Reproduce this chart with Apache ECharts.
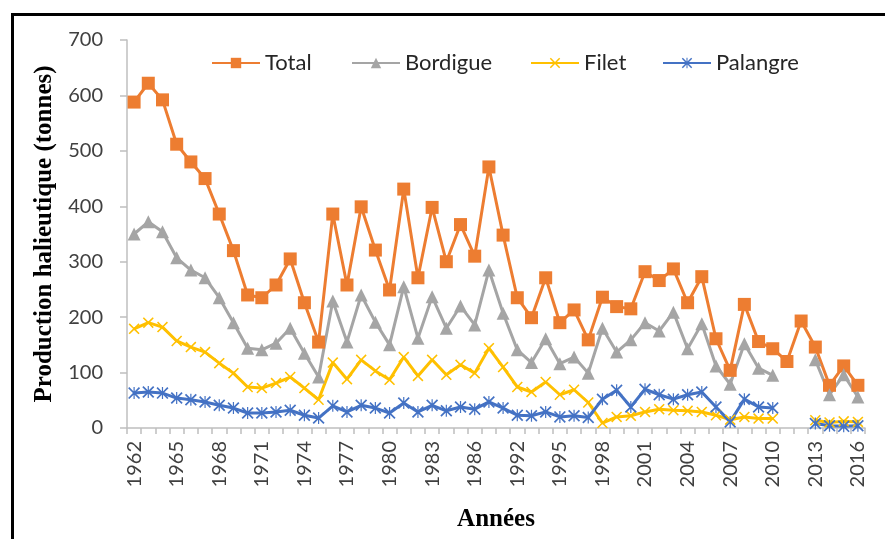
<!DOCTYPE html>
<html>
<head>
<meta charset="utf-8">
<script src="https://cdn.jsdelivr.net/npm/echarts@6/dist/echarts.min.js"></script>
<style>
html,body{margin:0;padding:0;background:#fff;}
#c{width:885px;height:539px;}
</style>
</head>
<body>
<div id="c"></div>
<script>
const years = ['1962','1963','1964','1965','1966','1967','1968','1969','1970','1971','1972','1973','1974','1975','1976','1977','1978','1979','1980','1981','1982','1983','1984','1985','1986','1988','1990','1992','1993','1994','1995','1996','1997','1998','1999','2000','2001','2002','2003','2004','2005','2006','2007','2008','2009','2010','2011','2012','2013','2014','2015','2016'];

const total = [588,622,592,512,480,450,386,320,240,235,258,305,226,155,386,258,399,321,249,431,271,398,300,367,310,
  471,348,
  235,199,271,190,213,159,236,219,215,282,266,287,226,273,161,104,223,156,143,120,193,146,77,112,77];

const bordigue = [350,372,354,307,285,271,235,190,144,141,153,180,135,92,229,155,240,191,150,255,162,237,180,220,186,
  285,207,
  141,118,161,116,128,99,180,137,159,190,175,209,143,188,112,79,152,108,95,null,null,123,60,96,56];

const filet = [179,190,182,157,146,137,117,99,74,72,81,92,72,51,118,88,123,103,87,128,94,123,96,114,99,
  144,110,
  74,65,83,60,69,46,9,20,22,29,34,32,31,29,23,15,20,17,17,null,null,14,10,12,11];

const palangre = [63,65,63,54,51,47,41,36,27,27,29,32,23,18,40,29,41,36,27,45,29,41,31,38,34,
  47,36,
  23,22,29,20,22,19,52,68,38,70,60,52,60,65,38,11,52,38,36,null,null,8,4,3,4];

const seriesNames = ['Total','Bordigue','Filet','Palangre'];
const yTicks = {min:0, max:700, interval:100};

const xPath = 'path://M2,0 L10,8 L18,0 L20,2 L12,10 L20,18 L18,20 L10,12 L2,20 L0,18 L8,10 L0,2 Z';
const starPath = 'path://M2,0 L10,8 L18,0 L20,2 L12,10 L20,18 L18,20 L10,12 L2,20 L0,18 L8,10 L0,2 Z M9,0 L11,0 L11,20 L9,20 Z';

const colors = ['#ED7D31','#A5A5A5','#FFC000','#4472C4'];
const symbols = ['rect','triangle',xPath,starPath];
const symSizes = [13,13,11,12];
const dataSets = [total,bordigue,filet,palangre];
const legendLefts = [211,351,530,662];

const chart = echarts.init(document.getElementById('c'), null, {renderer:'canvas'});

const series = seriesNames.map((n,i)=>({
  name:n, type:'line', data:dataSets[i],
  symbol:symbols[i], symbolSize:symSizes[i], showAllSymbol:true,
  connectNulls:false,
  lineStyle:{color:colors[i], width:3},
  itemStyle:{color:colors[i], opacity:1},
  emphasis:{disabled:true},
  animation:false,
  z: 2
}));

const legends = seriesNames.map((n,i)=>({
  data:[n], left:legendLefts[i], top:52, padding:0,
  itemWidth:48, itemHeight:13, itemGap:0,
  textStyle:{fontFamily:'Lato', fontSize:22, color:'#262626'}
}));

chart.setOption({
  animation:false,
  backgroundColor:'#fff',
  color:colors,
  grid:{left:127, right:20, top:40, bottom:111, containLabel:false},
  legend:legends,
  xAxis:{
    type:'category', data:years, boundaryGap:true,
    axisLine:{show:true, lineStyle:{color:'#BFBFBF', width:1.5}},
    axisTick:{show:true, interval:0, length:6, lineStyle:{color:'#BFBFBF', width:1.5}},
    axisLabel:{interval:2, rotate:90, margin:13, fontFamily:'Lato', fontSize:20, color:'#404040'},
    name:'Années', nameLocation:'middle', nameGap:79,
    nameTextStyle:{fontFamily:'Liberation Serif', fontWeight:'bold', fontSize:25, color:'#000'}
  },
  yAxis:{
    type:'value', min:yTicks.min, max:yTicks.max, interval:yTicks.interval,
    axisLine:{show:true, lineStyle:{color:'#BFBFBF', width:1.5}},
    axisTick:{show:true, length:7, lineStyle:{color:'#BFBFBF', width:1.5}},
    splitLine:{show:false},
    axisLabel:{margin:24, fontFamily:'Lato', fontSize:20, color:'#404040'},
    name:'Production halieutique (tonnes)', nameLocation:'middle', nameGap:66,
    nameTextStyle:{fontFamily:'Liberation Serif', fontWeight:'bold', fontSize:25, color:'#000'}
  },
  graphic:[{
    type:'rect', left:10, top:12, silent:true,
    shape:{x:0,y:0,width:950,height:620},
    style:{fill:null, stroke:'#000', lineWidth:3}
  }],
  series:series
});
</script>
</body>
</html>
